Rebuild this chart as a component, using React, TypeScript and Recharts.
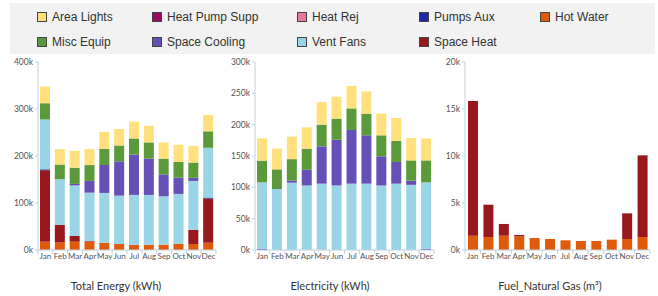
import { BarChart, Bar, XAxis, YAxis } from 'recharts'

// monthly energy breakdown
const months = ['Jan', 'Feb', 'Mar', 'Apr', 'May', 'Jun', 'Jul', 'Aug', 'Sep', 'Oct', 'Nov', 'Dec']

// electricity end uses (kWh)
const pumpsAux = [2000, 0, 0, 0, 0, 0, 0, 0, 0, 0, 0, 2000]
const ventFans = [106000, 97300, 107400, 103000, 105900, 103000, 105900, 105900, 103000, 105900, 104000, 106000]
const spaceCooling = [0, 0, 3200, 25000, 59500, 73000, 85600, 77100, 46500, 34500, 6600, 0]
const miscEquip = [34600, 31400, 34400, 33700, 34600, 33600, 34500, 34600, 33500, 33600, 32400, 35000]
const areaLights = [35400, 33000, 35900, 34000, 36000, 35100, 35700, 35400, 34600, 36600, 35700, 35000]

// gas end uses expressed in kWh (total energy chart)
const hotWaterKwh = [17700, 16000, 17700, 17700, 15500, 12700, 11300, 11300, 11300, 13400, 12700, 15500]
const spaceHeatKwh = [152000, 37000, 12300, 1300, 0, 0, 0, 0, 0, 0, 30300, 94000]

// natural gas (m3)
const hotWaterGas = [1520, 1380, 1520, 1450, 1280, 1170, 1030, 960, 960, 1100, 1170, 1380]
const spaceHeatGas = [14330, 3440, 1250, 150, 0, 0, 0, 0, 0, 0, 2730, 8690]

const totalTicks = [0, 100000, 200000, 300000, 400000]
const elecTicks = [0, 50000, 100000, 150000, 200000, 250000, 300000]
const gasTicks = [0, 5000, 10000, 15000, 20000]

const C = {
  lights: '#ffe07d',
  hpSupp: '#9b0a5e',
  heatRej: '#e8799a',
  pumps: '#2028a8',
  hotWater: '#e05a0c',
  misc: '#5a9a3a',
  cooling: '#6450b6',
  fans: '#9ad5e7',
  heat: '#98181e',
}

const AXIS = '#c0d0e0'
const FONT = 'Lato, "Open Sans", sans-serif'

const totalData = months.map((m, i) => ({
  month: m,
  hotWater: hotWaterKwh[i],
  heat: spaceHeatKwh[i],
  pumps: pumpsAux[i],
  fans: ventFans[i],
  cooling: spaceCooling[i],
  misc: miscEquip[i],
  lights: areaLights[i],
}))

const elecData = months.map((m, i) => ({
  month: m,
  pumps: pumpsAux[i],
  fans: ventFans[i],
  cooling: spaceCooling[i],
  misc: miscEquip[i],
  lights: areaLights[i],
}))

const gasData = months.map((m, i) => ({
  month: m,
  hotWater: hotWaterGas[i],
  heat: spaceHeatGas[i],
}))

const legendCols = [
  [{ name: 'Area Lights', color: C.lights }, { name: 'Misc Equip', color: C.misc }],
  [{ name: 'Heat Pump Supp', color: C.hpSupp }, { name: 'Space Cooling', color: C.cooling }],
  [{ name: 'Heat Rej', color: C.heatRej }, { name: 'Vent Fans', color: C.fans }],
  [{ name: 'Pumps Aux', color: C.pumps }, { name: 'Space Heat', color: C.heat }],
  [{ name: 'Hot Water', color: C.hotWater }],
]
const legendX = [52, 167, 312, 434, 555]

const kFmt = (v: number) => v / 1000 + 'k'

function MonthTick(props: any) {
  const { x, y, payload, index, band } = props
  const left = x - band / 2
  return (
    <g>
      <line x1={left} y1={y} x2={left} y2={y + 4} stroke={AXIS} />
      {index === 11 && <line x1={x + band / 2} y1={y} x2={x + band / 2} y2={y + 4} stroke={AXIS} />}
      <text x={x} y={y + 3.5} dy="0.71em" textAnchor="middle" fontSize={8} fill="#555" fontFamily={FONT}>
        {payload.value}
      </text>
    </g>
  )
}

function Panel(props: {
  left: number
  width: number
  axisW: number
  right: number
  data: any[]
  ticks: number[]
  max: number
  title: string
  titleX: number
  series: { key: string; color: string }[]
}) {
  const plotW = props.width - props.axisW - props.right
  const band = plotW / 12
  return (
    <div style={{ position: 'absolute', left: props.left, top: 0 }}>
      <BarChart
        width={props.width}
        height={296}
        data={props.data}
        margin={{ top: 62, right: props.right, left: 0, bottom: 16 }}
        barSize={10}
      >
        <XAxis
          dataKey="month"
          axisLine={{ stroke: AXIS }}
          tickLine={false}
          tickSize={0}
          tickMargin={0}
          interval={0}
          height={30}
          tick={<MonthTick band={band} />}
        />
        <YAxis
          width={props.axisW}
          domain={[0, props.max]}
          ticks={props.ticks}
          tickFormatter={kFmt}
          axisLine={{ stroke: AXIS }}
          tickLine={{ stroke: AXIS }}
          tickSize={3}
          tickMargin={2}
          interval={0}
          tick={{ fontSize: 8.5, fill: '#555', fontFamily: FONT }}
        />
        {props.series.map((s) => (
          <Bar key={s.key} dataKey={s.key} stackId="a" fill={s.color} isAnimationActive={false} />
        ))}
      </BarChart>
      <div
        style={{
          position: 'absolute',
          top: 279,
          left: props.titleX - props.left - 100,
          width: 200,
          textAlign: 'center',
          fontFamily: FONT,
          fontSize: 11,
          color: '#333',
        }}
      >
        {props.title}
      </div>
    </div>
  )
}

export default function App() {
  return (
    <div style={{ position: 'absolute', left: 0, top: 0, width: 658, height: 296, background: '#fff', overflow: 'hidden' }}>
      <div style={{ position: 'absolute', left: 10, top: 3, width: 645, height: 51, background: '#f2f2f2' }} />
      {legendCols.map((col, ci) =>
        col.map((item, ri) => (
          <div
            key={item.name}
            style={{
              position: 'absolute',
              left: legendX[ci] - 15,
              top: ri === 0 ? 9 : 34,
              height: 16,
              display: 'flex',
              alignItems: 'center',
              fontFamily: '"Liberation Sans", Arial, sans-serif',
              fontSize: 12,
              color: '#333',
              whiteSpace: 'nowrap',
            }}
          >
            <span
              style={{
                display: 'inline-block',
                width: 8,
                height: 8,
                background: item.color,
                border: '1px solid #444',
                marginRight: 5,
              }}
            />
            {item.name}
          </div>
        ))
      )}
      <Panel
        left={0}
        width={220}
        axisW={38}
        right={4}
        data={totalData}
        ticks={totalTicks}
        max={400000}
        title="Total Energy (kWh)"
        titleX={116}
        series={[
          { key: 'hotWater', color: C.hotWater },
          { key: 'heat', color: C.heat },
          { key: 'pumps', color: C.pumps },
          { key: 'fans', color: C.fans },
          { key: 'cooling', color: C.cooling },
          { key: 'misc', color: C.misc },
          { key: 'lights', color: C.lights },
        ]}
      />
      <Panel
        left={220}
        width={220}
        axisW={35}
        right={6}
        data={elecData}
        ticks={elecTicks}
        max={300000}
        title="Electricity (kWh)"
        titleX={330}
        series={[
          { key: 'pumps', color: C.cooling },
          { key: 'fans', color: C.fans },
          { key: 'cooling', color: C.cooling },
          { key: 'misc', color: C.misc },
          { key: 'lights', color: C.lights },
        ]}
      />
      <Panel
        left={440}
        width={218}
        axisW={25}
        right={8}
        data={gasData}
        ticks={gasTicks}
        max={20000}
        title="Fuel_Natural Gas (m³)"
        titleX={550}
        series={[
          { key: 'hotWater', color: C.hotWater },
          { key: 'heat', color: C.heat },
        ]}
      />
    </div>
  )
}
